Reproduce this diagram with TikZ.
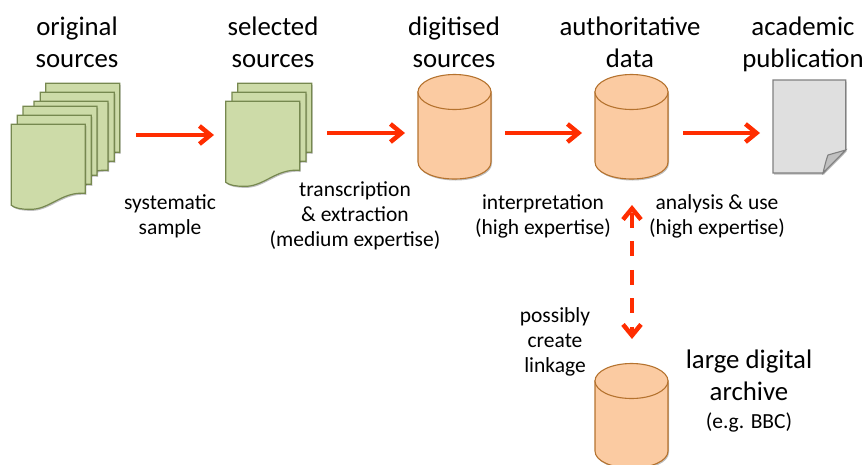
\documentclass[tikz,border=0pt]{standalone}
\usepackage{fontspec}
\setmainfont{Carlito}
\usetikzlibrary{arrows.meta,shadows}
\definecolor{sheetfill}{HTML}{CDDBA8}
\definecolor{sheetline}{HTML}{76884F}
\definecolor{drumfill}{HTML}{FBCBA2}
\definecolor{drumline}{HTML}{B5732F}
\definecolor{paperfill}{HTML}{DFDFDF}
\definecolor{paperfold}{HTML}{C0C0C0}
\definecolor{paperline}{HTML}{808080}
\definecolor{flowred}{HTML}{FF2D00}
\tikzset{
  title/.style={align=center,font=\fontsize{26.8}{32}\selectfont,inner sep=0pt},
  note/.style={align=center,font=\fontsize{21.5}{25}\selectfont,inner sep=0pt},
  soft/.style={drop shadow={shadow xshift=1pt,shadow yshift=-1.5pt,opacity=.25,fill=black}},
  flow/.style={draw=flowred,line width=4.5pt,-{Straight Barb[length=11pt,width=18pt]}},
  linkflow/.style={draw=flowred,line width=4.5pt,dash pattern=on 15pt off 13.5pt,dash phase=26.5pt,
    {Straight Barb[length=11pt,width=18pt]}-{Straight Barb[length=11pt,width=18pt]}},
  sheet/.pic={
    \draw[soft,fill=sheetfill,draw=sheetline,line width=1.2pt] (0,0) -- (74,0) -- (74,69)
      .. controls (50,67) and (38,86) .. (18,85)
      .. controls (10,85) and (4,84) .. (0,81) -- cycle;
  },
  drum/.pic={
    \draw[soft,fill=drumfill,draw=drumline,line width=1.1pt] (-36.5,0) -- (-36.5,70)
      .. controls (-36.5,80) and (-20,87) .. (0,87)
      .. controls (20,87) and (36.5,80) .. (36.5,70) -- (36.5,0) -- cycle;
    \draw[fill=drumfill,draw=drumline,line width=1.1pt] (0,0) ellipse [x radius=36.5pt,y radius=17.5pt];
  }
}
\begin{document}
\begin{tikzpicture}[x=1pt,y=-1pt]
\useasboundingbox (0,0) rectangle (868,464);
% first stack
\pic at (45.7,83.3) {sheet};
\pic at (40.3,92.3) {sheet};
\pic at (34,101.3) {sheet};
\pic at (23,106.3) {sheet};
\pic at (17.3,115.3) {sheet};
\pic at (11.3,124.3) {sheet};
% second stack
\pic at (237.7,83.3) {sheet};
\pic at (232,92.3) {sheet};
\pic at (225.7,101.3) {sheet};
% drums
\pic at (454.5,92) {drum};
\pic at (631.5,92) {drum};
\pic at (631.5,381) {drum};
% paper
\draw[soft,fill=paperfill,draw=paperline,line width=1.1pt] (773,80) -- (845.7,80) -- (845.7,150) -- (823,173) -- (773,173) -- cycle;
\draw[fill=paperfold,draw=paperline,line width=1.1pt] (823,173) .. controls (825,165) and (826,160) .. (828,155) -- (845.7,150) -- cycle;
% arrow ends
\coordinate (stackA) at (136,135);
\coordinate (stackB) at (214,135);
\coordinate (stackC) at (327,133);
\coordinate (digitA) at (405,133);
\coordinate (digitB) at (505,133);
\coordinate (authA) at (582,133);
\coordinate (authB) at (683,133);
\coordinate (paperA) at (760,133);
\coordinate (linkA) at (632,205);
\coordinate (linkB) at (632,339);
\draw[flow] (stackA) -- (stackB);
\draw[flow] (stackC) -- (digitA);
\draw[flow] (digitB) -- (authA);
\draw[flow] (authB) -- (paperA);
\draw[linkflow] (linkA) -- (linkB);
% titles
\node [title] (t1) at (77,42) {original\\sources};
\node [title] (t2) at (273,42) {selected\\sources};
\node [title] (t3) at (454,42) {digitised\\sources};
\node [title] (t4) at (630,42) {authoritative\\data};
\node [title] (t5) at (803,44) {academic\\publication};
\node [title] (t6) at (749,375) {large digital\\archive};
% notes
\node [note] (n1) at (170,216) {systematic\\sample};
\node [note] (n2) at (355,216) {transcription\\\& extraction\\(medium expertise)};
\node [note] (n3) at (543,216) {interpretation\\(high expertise)};
\node [note] (n4) at (717,216) {analysis \& use\\(high expertise)};
\node [note] (n5) at (555,342) {possibly\\create\\linkage};
\node [note] (n6) at (749,422) {(e.g. BBC)};
\end{tikzpicture}
\end{document}
